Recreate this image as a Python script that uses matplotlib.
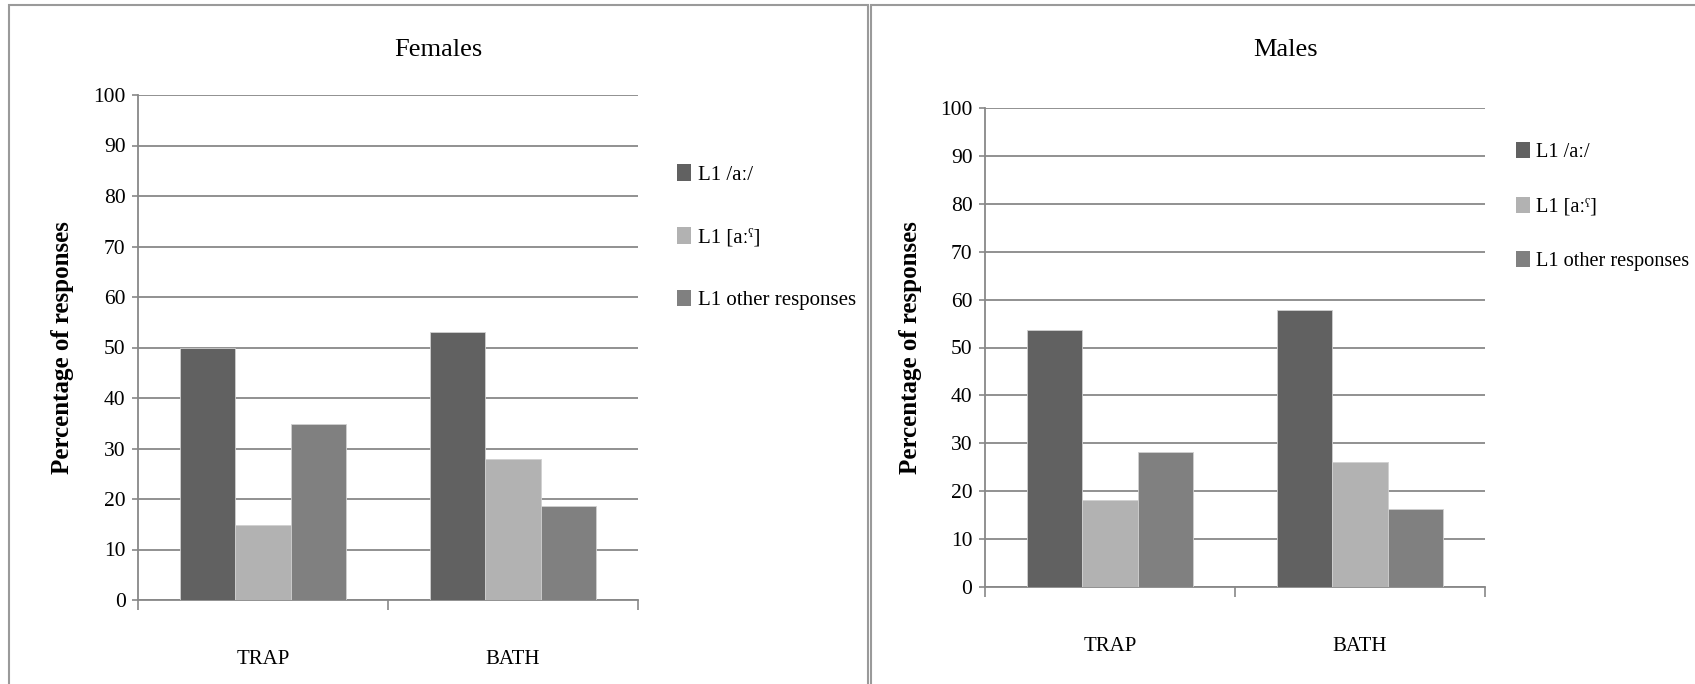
import matplotlib
matplotlib.use("Agg")
import matplotlib.pyplot as plt
from matplotlib.patches import Rectangle, Patch
import numpy as np

plt.rcParams['font.family'] = ['Liberation Serif', 'DejaVu Serif']

# data
categories = ['TRAP', 'BATH']
series = ['L1 /aː/', 'L1 [aːˤ]', 'L1 other responses']
females_aa = [50, 53]
females_ph = [14.8, 28]
females_other = [34.8, 18.7]
males_aa = [53.7, 57.8]
males_ph = [18.1, 26.2]
males_other = [28.1, 16.2]
colors = ['#616161', '#b2b2b2', '#808080']
yticks = list(range(0, 101, 10))

fig = plt.figure(figsize=(16.95, 6.84), dpi=100)

# panel frames
fig.patches.append(Rectangle((9/1695, -0.05), 859/1695, 1 - 5/684 + 0.05,
                             transform=fig.transFigure, fill=False,
                             edgecolor='#9a9a9a', linewidth=1.5))
fig.patches.append(Rectangle((871/1695, -0.05), 830/1695, 1 - 5/684 + 0.05,
                             transform=fig.transFigure, fill=False,
                             edgecolor='#9a9a9a', linewidth=1.5))


def panel(rect, title, title_x, vals, legend_anchor, spacing, legend_fs):
    ax = fig.add_axes(rect)
    x = np.arange(len(categories))
    w = 0.222
    for i, v in enumerate(vals):
        ax.bar(x + (i - 1) * w, v, w, color=colors[i], label=series[i],
               edgecolor='#d0d0d0', linewidth=0.6, zorder=3)
    ax.set_ylim(0, 100)
    ax.set_xlim(-0.5, 1.5)
    ax.set_yticks(yticks)
    ax.set_yticklabels([str(t) for t in yticks], fontsize=15.5)
    ax.yaxis.grid(True, color='#888888', linewidth=1.3, zorder=0)
    ax.set_xticks(x)
    ax.set_xticklabels(categories, fontsize=15)
    ax.tick_params(axis='x', which='major', length=0, pad=36)
    ax.set_xticks([-0.5, 0.5, 1.5], minor=True)
    ax.tick_params(axis='x', which='minor', length=7, color='#888888', width=1.2)
    ax.tick_params(axis='y', length=4, color='#888888', width=1.2, pad=5)
    for s in ['top', 'right']:
        ax.spines[s].set_visible(False)
    for s in ['left', 'bottom']:
        ax.spines[s].set_color('#888888')
        ax.spines[s].set_linewidth(1.3)
    ax.set_ylabel('Percentage of responses', fontsize=18, fontweight='bold')
    ax.yaxis.set_label_coords(-0.127, 0.5)
    fig.text(title_x / 1695, 1 - 50 / 684, title, fontsize=19,
             ha='center', va='center')
    handles = [Patch(facecolor=c) for c in colors]
    ax.legend(handles, series, loc='upper left', bbox_to_anchor=legend_anchor,
              frameon=False, fontsize=legend_fs, handlelength=0.7,
              handleheight=0.85, handletextpad=0.3, labelspacing=spacing)
    return ax


panel([138/1695, 1 - 600/684, 500/1695, 505/684], 'Females', 438,
      [females_aa, females_ph, females_other], (1.04, 0.90), 2.03, 15)
panel([985/1695, 1 - 587/684, 500/1695, 479/684], 'Males', 1286,
      [males_aa, males_ph, males_other], (1.025, 0.967), 1.7, 14.6)

fig.savefig('out.png', dpi=100)
